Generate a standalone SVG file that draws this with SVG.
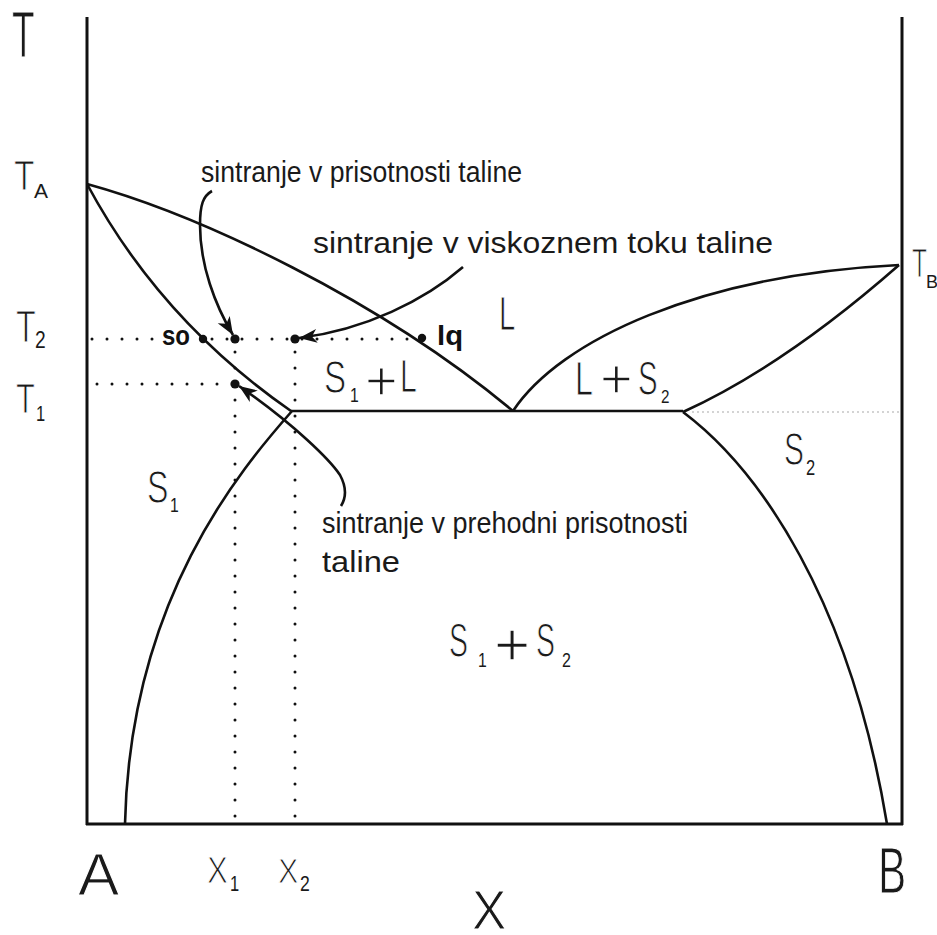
<svg xmlns="http://www.w3.org/2000/svg" width="937" height="935" viewBox="0 0 937 935">
<style>
.ln{fill:none;stroke:#111;stroke-width:2.6;stroke-linejoin:round}
.fr{fill:none;stroke:#111;stroke-width:3}
.dot{fill:none;stroke:#111;stroke-width:3;stroke-linecap:round;stroke-dasharray:0 15}
.dotv{fill:none;stroke:#111;stroke-width:3;stroke-linecap:round;stroke-dasharray:0 16}
.dotg{fill:none;stroke:#999;stroke-width:1.6;stroke-linecap:round;stroke-dasharray:0 5}
.pt{fill:#111}
.t{font-family:"Liberation Sans",Arial,sans-serif;fill:#1a1a1a;stroke:#fff;stroke-width:1.1}
.s{font-family:"Liberation Sans",Arial,sans-serif;fill:#1a1a1a}
.pl{font-family:"Liberation Sans",Arial,sans-serif;fill:#1a1a1a;stroke:#fff;stroke-width:1.4}
.lab{font-family:"Liberation Sans",Arial,sans-serif;fill:#1a1a1a;font-size:29px}
.b{font-family:"Liberation Sans",Arial,sans-serif;fill:#111;font-weight:bold;font-size:27px}
.arr{fill:none;stroke:#111;stroke-width:2.6;marker-end:url(#ah)}
</style>
<defs>
<marker id="ah" markerUnits="userSpaceOnUse" markerWidth="22" markerHeight="16" refX="18" refY="7" orient="auto">
<path d="M0,0 L18,7 L0,14 L5,7 Z" fill="#111"/>
</marker>
</defs>
<rect width="937" height="935" fill="#fff"/>

<g id="frame">
<line class="fr" x1="87" y1="17" x2="87" y2="825"/>
<line class="fr" x1="902" y1="17" x2="902" y2="825"/>
<line class="fr" x1="86" y1="824" x2="903" y2="824"/>
</g>

<g id="guides">
<line class="dot" x1="92" y1="339" x2="155" y2="339"/>
<line class="dot" x1="212" y1="339" x2="420" y2="339"/>
<line class="dot" x1="97" y1="384" x2="228" y2="384"/>
<line class="dotv" x1="235" y1="352" x2="235" y2="820"/>
<line class="dotv" x1="295" y1="352" x2="295" y2="820"/>
<line class="dotg" x1="693" y1="412" x2="903" y2="412"/>
</g>

<g id="curves">
<path class="ln" d="M87,184 C 200,215 380,300 513,411"/>
<path class="ln" d="M87,184 Q 160,320 291,411"/>
<path class="ln" d="M291,411 L683,411"/>
<path class="ln" d="M292,411 C 240,470 130,600 125,824"/>
<path class="ln" d="M513,411 C 560,340 700,275 899,265"/>
<path class="ln" d="M683,412 Q 784,366 899,265"/>
<path class="ln" d="M683,412 C 760,470 850,600 887,824"/>
</g>

<g id="points">
<circle class="pt" cx="203" cy="339" r="4.2"/>
<circle class="pt" cx="235" cy="339" r="4.6"/>
<circle class="pt" cx="295" cy="339" r="4.6"/>
<circle class="pt" cx="422" cy="338" r="4.2"/>
<circle class="pt" cx="235" cy="384" r="4.6"/>
</g>

<g id="axis-labels">
<text class="t" font-size="64" transform="translate(12,57) scale(0.58,1)">T</text>
<g id="TA"><text class="t" font-size="43" transform="translate(14,190) scale(0.78,1)">T</text><text class="s" font-size="21" x="34" y="198">A</text></g>
<g id="T2"><text class="t" font-size="45" transform="translate(16,342) scale(0.72,1)">T</text><text class="s" font-size="24" transform="translate(35,348) scale(0.8,1)">2</text></g>
<g id="T1"><text class="t" font-size="43" transform="translate(16,413) scale(0.72,1)">T</text><text class="s" font-size="22" transform="translate(36,421) scale(0.75,1)">1</text></g>
<g id="TB"><text class="t" font-size="41" transform="translate(912,277) scale(0.6,1)">T</text><text class="s" font-size="18" x="926" y="288">B</text></g>
<text class="t" font-size="60" transform="translate(78,895) scale(1.03,1)">A</text>
<text class="t" font-size="64" transform="translate(878,893) scale(0.66,1)">B</text>
<text class="t" font-size="56" transform="translate(472,929) scale(0.92,1)">X</text>
<g id="x1"><text class="t" font-size="36" transform="translate(207,883) scale(0.87,1)">X</text><text class="s" font-size="22" transform="translate(230,891) scale(0.75,1)">1</text></g>
<g id="x2"><text class="t" font-size="36" transform="translate(278,883) scale(0.85,1)">X</text><text class="s" font-size="22" transform="translate(300,891) scale(0.8,1)">2</text></g>
</g>

<g id="region-labels">
<g id="L"><text class="t" font-size="49" transform="translate(499,330) scale(0.6,1)">L</text></g>
<g id="S1L">
<text class="t" font-size="46" transform="translate(324,393) scale(0.72,1)">S</text>
<text class="s" font-size="21" transform="translate(350,402) scale(0.75,1)">1</text>
<text class="pl" font-size="56" transform="translate(365,400)">+</text>
<text class="t" font-size="46" transform="translate(400,392) scale(0.66,1)">L</text>
</g>
<g id="LS2">
<text class="t" font-size="49" transform="translate(575,395) scale(0.66,1)">L</text>
<text class="pl" font-size="56" transform="translate(600,398)">+</text>
<text class="t" font-size="49" transform="translate(638,395) scale(0.6,1)">S</text>
<text class="s" font-size="19" transform="translate(661,403) scale(0.8,1)">2</text>
</g>
<g id="S2"><text class="t" font-size="46" transform="translate(784,465) scale(0.65,1)">S</text><text class="s" font-size="22" transform="translate(806,475) scale(0.75,1)">2</text></g>
<g id="S1"><text class="t" font-size="46" transform="translate(147,503) scale(0.7,1)">S</text><text class="s" font-size="21" transform="translate(170,512) scale(0.75,1)">1</text></g>
<g id="S1S2">
<text class="t" font-size="49" transform="translate(449,657) scale(0.58,1)">S</text>
<text class="s" font-size="21" transform="translate(478,667) scale(0.75,1)">1</text>
<text class="pl" font-size="62" transform="translate(494,665)">+</text>
<text class="t" font-size="49" transform="translate(536,657) scale(0.58,1)">S</text>
<text class="s" font-size="20" transform="translate(562,667) scale(0.8,1)">2</text>
</g>
<text id="so" class="b" x="162" y="345" textLength="28" lengthAdjust="spacingAndGlyphs">so</text>
<text id="lq" class="b" x="437" y="345" textLength="26" lengthAdjust="spacingAndGlyphs">lq</text>
</g>

<g id="annotations">
<text id="ann1" class="lab" x="201" y="182" textLength="321" lengthAdjust="spacingAndGlyphs">sintranje v prisotnosti taline</text>
<text id="ann2" class="lab" x="313" y="253" textLength="460" lengthAdjust="spacingAndGlyphs">sintranje v viskoznem toku taline</text>
<g id="ann3">
<text class="lab" x="322" y="533" textLength="366" lengthAdjust="spacingAndGlyphs">sintranje v prehodni prisotnosti</text>
<text class="lab" x="322" y="572" textLength="78" lengthAdjust="spacingAndGlyphs">taline</text>
</g>
</g>

<g id="connectors">
<path class="arr" d="M212,191 C 203,196 200,205 200,225 C 200,265 215,305 233,335"/>
<path class="arr" d="M463,267 C 425,300 365,330 299,338"/>
<path class="arr" d="M341,506 C 346,498 347,488 340,475 C 330,460 295,425 239,386"/>
</g>
</svg>
